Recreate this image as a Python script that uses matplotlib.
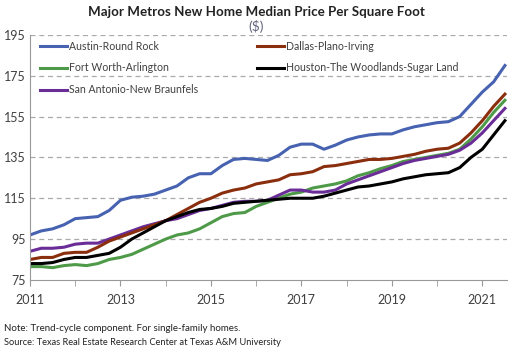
import numpy as np
import matplotlib
matplotlib.use("Agg")
import matplotlib.pyplot as plt

# dados trimestrais (2011 T1 ate meados de 2021)
anos = np.arange(2011, 2021.51, 0.25)

austin = [97, 99, 100, 102, 105, 105.5, 106, 109, 114, 115.5, 116, 117, 119, 121,
          125, 127, 127, 131, 134, 134.5, 134, 133.5, 136, 140, 141.5, 141.5, 139,
          141, 143.5, 145, 146, 146.5, 146.5, 148.5, 150, 151, 152, 152.5, 155,
          161, 167, 172, 180]
dallas = [85, 86, 86, 88, 88.5, 88.5, 91, 94, 96, 98, 100, 102, 104, 107, 110, 113,
          115, 117.5, 119, 120, 122, 123, 124, 126.5, 127, 128, 130.5, 131, 132,
          133, 134, 134, 134.5, 135.5, 136.5, 138, 139, 139.5, 142, 147, 153, 160, 166]
fortworth = [81.5, 81.5, 81, 82, 82.5, 82, 83, 85, 86, 87.5, 90, 92.5, 95, 97, 98,
             100, 103, 106, 107.5, 108, 111, 113, 115, 117, 118, 120, 121, 122,
             123.5, 126, 127.5, 129.5, 131, 133, 134, 135, 136, 137, 139, 144, 150,
             157, 163]
houston = [83, 83, 83.5, 85, 86, 86, 87, 88, 91, 95, 98, 101, 104, 106, 108, 109.5,
           110, 111, 112.5, 113, 113.5, 114, 114.5, 115, 115, 115, 116, 117.5, 119,
           120.5, 121, 122, 123, 124.5, 125.5, 126.5, 127, 127.5, 130, 135, 139,
           146, 153]
sanantonio = [89, 90.5, 90.5, 91, 92.5, 93, 93, 95, 97, 99, 101, 102.5, 104, 105,
              107, 109, 110, 111.5, 113, 113.5, 113.5, 114, 116.5, 119, 119, 118,
              118, 119, 122, 124, 126, 128, 130, 132, 133.5, 134.5, 135.5, 136.5,
              138.5, 142, 147, 153, 159]

plt.rcParams['font.family'] = ['Lato', 'DejaVu Sans']
cinza = '#404040'

fig = plt.figure(figsize=(5.12, 3.49), dpi=100)
ax = fig.add_axes([0.0586, 0.198, 0.932, 0.702])

ax.plot(anos, austin, color='#4662B0', lw=2.2, label='Austin-Round Rock')
ax.plot(anos, fortworth, color='#4E9A48', lw=2.2, label='Fort Worth-Arlington')
ax.plot(anos, sanantonio, color='#6A2C96', lw=2.2, label='San Antonio-New Braunfels')
ax.plot(anos, dallas, color='#8A2E0E', lw=2.2, label='Dallas-Plano-Irving')
ax.plot(anos, houston, color='black', lw=2.2, label='Houston-The Woodlands-Sugar Land')

ax.set_xlim(2011, 2021.55)
ax.set_ylim(75, 195)
ax.set_yticks(range(75, 196, 20))
ax.set_xticks(range(2011, 2022, 2))
ax.set_xticks(range(2011, 2022), minor=True)
ax.tick_params(axis='y', length=0, labelsize=9, colors=cinza, pad=3)
ax.tick_params(axis='x', which='both', direction='out', length=4, color='#999999',
               labelsize=9, labelcolor=cinza, pad=6)
for y in range(95, 196, 20):
    ax.axhline(y, color='#aaaaaa', lw=0.9, ls=(0, (4, 3)), zorder=0)

for lado in ['top', 'right']:
    ax.spines[lado].set_visible(False)
ax.spines['left'].set_color('#999999')
ax.spines['bottom'].set_color('#999999')

ax.legend(ncol=2, loc='upper left', bbox_to_anchor=(0.0, 1.015), frameon=False,
          fontsize=7.6, handlelength=2.6, handletextpad=0.15, columnspacing=5.6,
          labelspacing=1.02, labelcolor=cinza)

fig.text(0.5, 0.965, 'Major Metros New Home Median Price Per Square Foot',
         ha='center', va='center', fontsize=9.6, fontweight='bold', color='#222222')
fig.text(0.5, 0.924, '($)', ha='center', va='center', fontsize=10, color='#666680')
fig.text(0.008, 0.06, 'Note: Trend-cycle component. For single-family homes.',
         fontsize=7, color='#222222', va='center')
fig.text(0.008, 0.018, 'Source: Texas Real Estate Research Center at Texas A&M University',
         fontsize=6.7, color='#222222', va='center')

plt.savefig('out.png', dpi=100)
